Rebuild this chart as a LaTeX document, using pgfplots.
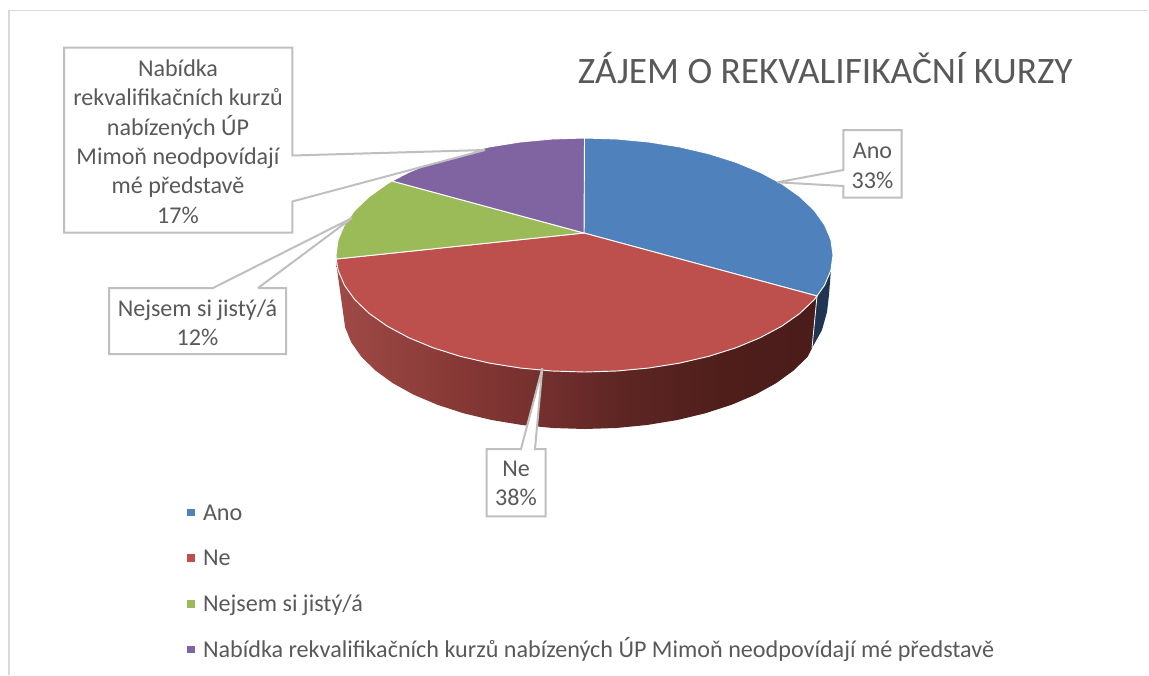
\documentclass[border=0pt]{standalone}
\usepackage{fontspec}
\setmainfont{Carlito}
\usepackage{pgfplots}
\pgfplotsset{compat=1.18}
\definecolor{txt}{HTML}{595959}
\definecolor{blu}{HTML}{4F81BD}
\definecolor{redd}{HTML}{BD4F4C}
\definecolor{grn}{HTML}{9BBB59}
\definecolor{pur}{HTML}{8064A2}
\definecolor{nav}{HTML}{1F3552}
\definecolor{brd}{HTML}{D9D9D9}
\definecolor{cal}{HTML}{BFBFBF}
\definecolor{wa}{HTML}{A04A47}
\definecolor{wb}{HTML}{863835}
\definecolor{wc}{HTML}{75302E}
\definecolor{wd}{HTML}{5E2623}
\definecolor{we}{HTML}{4F1E1B}
\definecolor{wf}{HTML}{4A1C1A}
\pgfdeclarehorizontalshading{wallshade}{100bp}{color(0bp)=(wa); color(25bp)=(wa); color(38bp)=(wb); color(46bp)=(wc); color(54.5bp)=(wd); color(65bp)=(we); color(75bp)=(wf); color(100bp)=(wf)}
\pgfplotsset{
 slice/.style={fill=#1,draw=white,line width=0.7pt,line join=round,
  legend image code/.code={\fill[#1,draw=none] (0pt,-2.9pt) rectangle (5.8pt,2.9pt);\path[draw=none,fill=none] (0pt,0pt) -- (9.8pt,0pt);}},
 callout/.style={fill=white,draw=cal,line width=1.5pt,line join=miter,miter limit=2,forget plot},
}
\begin{document}
\begin{tikzpicture}
\begin{axis}[
 scale only axis,width=861.75pt,height=506.25pt,
 xmin=0,xmax=1149,ymin=0,ymax=675,y dir=reverse,
 hide axis,clip=false,
 legend style={at={(axis cs:187,500)},anchor=north west,draw=none,fill=none,
  font=\fontsize{18.1}{22}\selectfont,text=txt,row sep=15.7pt,
  cells={anchor=west,text height=13pt,text depth=4pt},inner sep=0pt},
 legend cell align=left,
]
\addplot[draw=none,forget plot] coordinates {(0,0) (1149,675)};
% chart frame
\addplot[draw=brd,line width=1.2pt,forget plot] coordinates {(9,675) (9,10.5) (1147,10.5)};
% side walls
\addplot[shading=wallshade,draw=none,forget plot] coordinates {
(817,296) (812,348) (807.6,356.8) (793.6,370.5) (776.1,383.2) (755.3,394.7) (731.5,404.8)
(705.3,413.3) (676.9,420.1) (647,425) (616,428) (584.5,429) (553,428) (522,425) (492.1,420.1)
(463.7,413.3) (437.5,404.8) (413.7,394.7) (392.9,383.2) (375.4,370.5) (361.4,356.8) (351.2,342.3)
(345.1,327.3) (343,312) (336,262) (338.1,270.3) (344.5,285.3) (354.9,299.8) (369.3,313.5)
(387.3,326.2) (408.8,337.7) (433.2,347.8) (460.2,356.3) (489.4,363.1) (520.2,368) (552.1,371)
(584.5,372) (616.9,371) (648.8,368) (679.6,363.1) (708.8,356.3) (735.8,347.8) (760.2,337.7)
(781.7,326.2) (799.7,313.5) (814.1,299.8) (817,296)} --cycle;
\addplot[fill=nav,draw=none,forget plot] coordinates {
(817,296) (824.5,285.3) (830.9,270.3) (829,295) (827,312) (822,330) (812,348)} --cycle;
\addplot[draw=white,line width=0.6pt,forget plot] coordinates {(817,296) (812,348)};
% top faces
\addplot[slice=blu] coordinates {
(584,233) (584.5,138) (616.9,139) (648.8,142) (679.6,146.9) (708.8,153.7) (735.8,162.2) (760.2,172.3)
(781.7,183.8) (799.7,196.5) (814.1,210.2) (824.5,224.7) (830.9,239.7) (833,255) (830.9,270.3)
(824.5,285.3) (817,296)} --cycle;
\addlegendentry{Ano}
\addplot[slice=redd] coordinates {
(584,233) (817,296) (814.1,299.8) (799.7,313.5) (781.7,326.2) (760.2,337.7) (735.8,347.8) (708.8,356.3)
(679.6,363.1) (648.8,368) (616.9,371) (584.5,372) (552.1,371) (520.2,368) (489.4,363.1) (460.2,356.3)
(433.2,347.8) (408.8,337.7) (387.3,326.2) (369.3,313.5) (354.9,299.8) (344.5,285.3) (338.1,270.3)
(336.2,259)} --cycle;
\addlegendentry{Ne}
\addplot[slice=grn] coordinates {
(584,233) (336.2,259) (336,255) (338.1,239.7) (344.5,224.7) (354.9,210.2) (369.3,196.5) (387.3,183.8)
(392,181)} --cycle;
\addlegendentry{Nejsem si jistý/á}
\addplot[slice=pur] coordinates {
(584,233) (392,181) (408.8,172.3) (433.2,162.2) (460.2,153.7) (489.4,146.9) (520.2,142) (552.1,139)
(584.5,138)} --cycle;
\addlegendentry{Nabídka rekvalifikačních kurzů nabízených ÚP Mimoň neodpovídají mé představě}
% callouts
\addplot[callout] coordinates {(843.3,130) (901.7,130) (901.7,197.5) (843.3,197.5) (843.3,186) (777.3,182.3) (843.3,170)} --cycle;
\addplot[callout] coordinates {(486.7,449) (521,449) (542.3,368.3) (535,449) (545.7,449) (545.7,516.3) (486.7,516.3)} --cycle;
\addplot[callout] coordinates {(109,288) (213,288) (352,218) (258,288) (286,288) (286,354) (109,354)} --cycle;
\addplot[callout] coordinates {(64,47.7) (292.3,47.7) (292.3,155.5) (485,150) (292.3,201.5) (292.3,232.7) (64,232.7)} --cycle;
% texts
\node[text=txt,font=\fontsize{18.05}{22}\selectfont,align=center,anchor=center] at (axis cs:178,141.5) {Nabídka\\rekvalifikačních kurzů\\nabízených ÚP\\Mimoň neodpovídají\\mé představě\\17\%};
\node[text=txt,font=\fontsize{18.05}{22}\selectfont,align=center,anchor=center] at (axis cs:197.5,323) {Nejsem si jistý/á\\12\%};
\node[text=txt,font=\fontsize{18.05}{22}\selectfont,align=center,anchor=center] at (axis cs:872.5,166) {Ano\\33\%};
\node[text=txt,font=\fontsize{18.05}{22}\selectfont,align=center,anchor=center] at (axis cs:516,483.5) {Ne\\38\%};
\node[text=txt,font=\fontsize{28}{34}\selectfont,anchor=base west,inner sep=0pt] at (axis cs:577.5,83) {ZÁJEM O REKVALIFIKAČNÍ KURZY};
\end{axis}
\end{tikzpicture}
\end{document}
